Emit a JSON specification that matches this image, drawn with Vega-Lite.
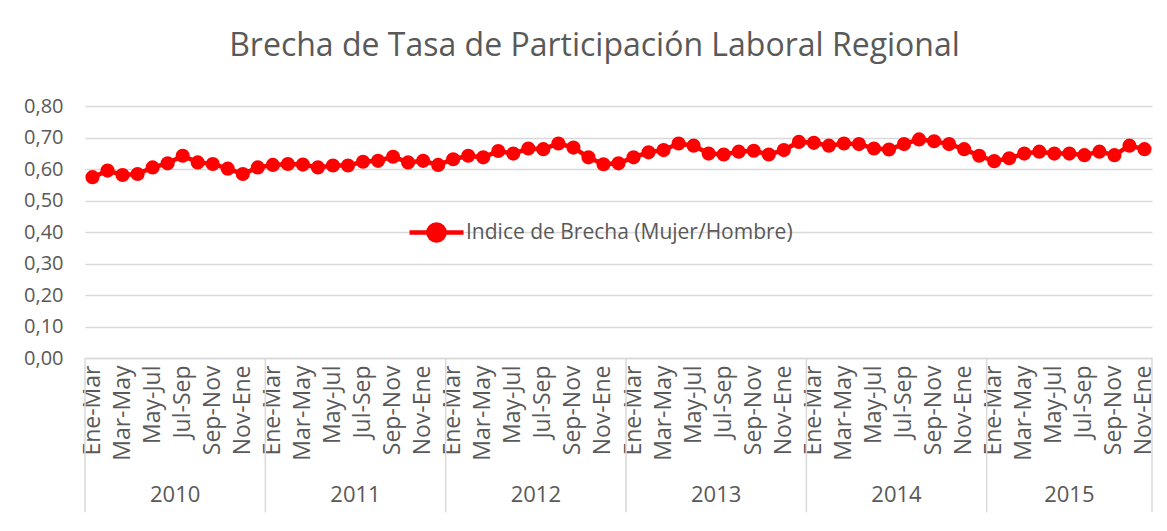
{
  "$schema": "https://vega.github.io/schema/vega-lite/v6.json",
  "width": 1067,
  "height": 252,
  "autosize": {"type": "none"},
  "padding": {"left": 85, "top": 106, "right": 15, "bottom": 173},
  "background": "white",
  "config": {"font": "Open Sans", "view": {"stroke": null}},
  "title": {"text": "Brecha de Tasa de Participación Laboral Regional", "fontSize": 32, "font": "Open Sans", "fontWeight": "normal", "color": "#595959", "anchor": "middle", "offset": 33, "dx": -24},
  "datasets": {
    "serie": [
      {"periodo": "Ene-Mar 2010", "valor": 0.574}, {"periodo": "Feb-Abr 2010", "valor": 0.595}, {"periodo": "Mar-May 2010", "valor": 0.581}, {"periodo": "Abr-Jun 2010", "valor": 0.584}, {"periodo": "May-Jul 2010", "valor": 0.605}, {"periodo": "Jun-Ago 2010", "valor": 0.618}, {"periodo": "Jul-Sep 2010", "valor": 0.642}, {"periodo": "Ago-Oct 2010", "valor": 0.621}, {"periodo": "Sep-Nov 2010", "valor": 0.616}, {"periodo": "Oct-Dic 2010", "valor": 0.601}, {"periodo": "Nov-Ene 2010", "valor": 0.584}, {"periodo": "Dic-Feb 2010", "valor": 0.605},
      {"periodo": "Ene-Mar 2011", "valor": 0.613}, {"periodo": "Feb-Abr 2011", "valor": 0.616}, {"periodo": "Mar-May 2011", "valor": 0.614}, {"periodo": "Abr-Jun 2011", "valor": 0.605}, {"periodo": "May-Jul 2011", "valor": 0.611}, {"periodo": "Jun-Ago 2011", "valor": 0.611}, {"periodo": "Jul-Sep 2011", "valor": 0.623}, {"periodo": "Ago-Oct 2011", "valor": 0.626}, {"periodo": "Sep-Nov 2011", "valor": 0.639}, {"periodo": "Oct-Dic 2011", "valor": 0.621}, {"periodo": "Nov-Ene 2011", "valor": 0.626}, {"periodo": "Dic-Feb 2011", "valor": 0.613},
      {"periodo": "Ene-Mar 2012", "valor": 0.631}, {"periodo": "Feb-Abr 2012", "valor": 0.642}, {"periodo": "Mar-May 2012", "valor": 0.637}, {"periodo": "Abr-Jun 2012", "valor": 0.657}, {"periodo": "May-Jul 2012", "valor": 0.649}, {"periodo": "Jun-Ago 2012", "valor": 0.665}, {"periodo": "Jul-Sep 2012", "valor": 0.663}, {"periodo": "Ago-Oct 2012", "valor": 0.681}, {"periodo": "Sep-Nov 2012", "valor": 0.668}, {"periodo": "Oct-Dic 2012", "valor": 0.637}, {"periodo": "Nov-Ene 2012", "valor": 0.615}, {"periodo": "Dic-Feb 2012", "valor": 0.618},
      {"periodo": "Ene-Mar 2013", "valor": 0.637}, {"periodo": "Feb-Abr 2013", "valor": 0.653}, {"periodo": "Mar-May 2013", "valor": 0.660}, {"periodo": "Abr-Jun 2013", "valor": 0.681}, {"periodo": "May-Jul 2013", "valor": 0.674}, {"periodo": "Jun-Ago 2013", "valor": 0.649}, {"periodo": "Jul-Sep 2013", "valor": 0.646}, {"periodo": "Ago-Oct 2013", "valor": 0.655}, {"periodo": "Sep-Nov 2013", "valor": 0.658}, {"periodo": "Oct-Dic 2013", "valor": 0.646}, {"periodo": "Nov-Ene 2013", "valor": 0.660}, {"periodo": "Dic-Feb 2013", "valor": 0.686},
      {"periodo": "Ene-Mar 2014", "valor": 0.683}, {"periodo": "Feb-Abr 2014", "valor": 0.674}, {"periodo": "Mar-May 2014", "valor": 0.681}, {"periodo": "Abr-Jun 2014", "valor": 0.679}, {"periodo": "May-Jul 2014", "valor": 0.665}, {"periodo": "Jun-Ago 2014", "valor": 0.662}, {"periodo": "Jul-Sep 2014", "valor": 0.679}, {"periodo": "Ago-Oct 2014", "valor": 0.694}, {"periodo": "Sep-Nov 2014", "valor": 0.688}, {"periodo": "Oct-Dic 2014", "valor": 0.679}, {"periodo": "Nov-Ene 2014", "valor": 0.663}, {"periodo": "Dic-Feb 2014", "valor": 0.642},
      {"periodo": "Ene-Mar 2015", "valor": 0.625}, {"periodo": "Feb-Abr 2015", "valor": 0.634}, {"periodo": "Mar-May 2015", "valor": 0.649}, {"periodo": "Abr-Jun 2015", "valor": 0.655}, {"periodo": "May-Jul 2015", "valor": 0.649}, {"periodo": "Jun-Ago 2015", "valor": 0.649}, {"periodo": "Jul-Sep 2015", "valor": 0.644}, {"periodo": "Ago-Oct 2015", "valor": 0.655}, {"periodo": "Sep-Nov 2015", "valor": 0.644}, {"periodo": "Oct-Dic 2015", "valor": 0.674}, {"periodo": "Nov-Ene 2015", "valor": 0.663}
    ],
    "anios": [
      {"anio": "2010", "inicio": "Ene-Mar 2010", "centro": "Jul-Sep 2010"},
      {"anio": "2011", "inicio": "Ene-Mar 2011", "centro": "Jul-Sep 2011"},
      {"anio": "2012", "inicio": "Ene-Mar 2012", "centro": "Jul-Sep 2012"},
      {"anio": "2013", "inicio": "Ene-Mar 2013", "centro": "Jul-Sep 2013"},
      {"anio": "2014", "inicio": "Ene-Mar 2014", "centro": "Jul-Sep 2014"},
      {"anio": "2015", "inicio": "Ene-Mar 2015", "centro": "Jun-Ago 2015"}
    ]
  },
  "layer": [
    {
      "data": {"name": "serie"},
      "mark": {"type": "line", "strokeWidth": 4.5},
      "encoding": {
        "x": {
          "field": "periodo", "type": "ordinal",
          "scale": {"paddingInner": 0, "paddingOuter": 0, "domain": [
            "Ene-Mar 2010","Feb-Abr 2010","Mar-May 2010","Abr-Jun 2010","May-Jul 2010","Jun-Ago 2010","Jul-Sep 2010","Ago-Oct 2010","Sep-Nov 2010","Oct-Dic 2010","Nov-Ene 2010","Dic-Feb 2010",
            "Ene-Mar 2011","Feb-Abr 2011","Mar-May 2011","Abr-Jun 2011","May-Jul 2011","Jun-Ago 2011","Jul-Sep 2011","Ago-Oct 2011","Sep-Nov 2011","Oct-Dic 2011","Nov-Ene 2011","Dic-Feb 2011",
            "Ene-Mar 2012","Feb-Abr 2012","Mar-May 2012","Abr-Jun 2012","May-Jul 2012","Jun-Ago 2012","Jul-Sep 2012","Ago-Oct 2012","Sep-Nov 2012","Oct-Dic 2012","Nov-Ene 2012","Dic-Feb 2012",
            "Ene-Mar 2013","Feb-Abr 2013","Mar-May 2013","Abr-Jun 2013","May-Jul 2013","Jun-Ago 2013","Jul-Sep 2013","Ago-Oct 2013","Sep-Nov 2013","Oct-Dic 2013","Nov-Ene 2013","Dic-Feb 2013",
            "Ene-Mar 2014","Feb-Abr 2014","Mar-May 2014","Abr-Jun 2014","May-Jul 2014","Jun-Ago 2014","Jul-Sep 2014","Ago-Oct 2014","Sep-Nov 2014","Oct-Dic 2014","Nov-Ene 2014","Dic-Feb 2014",
            "Ene-Mar 2015","Feb-Abr 2015","Mar-May 2015","Abr-Jun 2015","May-Jul 2015","Jun-Ago 2015","Jul-Sep 2015","Ago-Oct 2015","Sep-Nov 2015","Oct-Dic 2015","Nov-Ene 2015"
          ]},
          "axis": {
            "title": null, "ticks": false, "grid": false, "labelAngle": -90, "labelAlign": "right", "labelBaseline": "middle",
            "labelPadding": 7, "labelFontSize": 23, "labelColor": "#595959", "labelOverlap": false,
            "domain": true, "domainColor": "#D9D9D9", "domainWidth": 1.5,
            "labelExpr": "indexof(['Ene-Mar','Mar-May','May-Jul','Jul-Sep','Sep-Nov','Nov-Ene'], split(datum.value, ' ')[0]) >= 0 ? split(datum.value, ' ')[0] : ''"
          }
        },
        "y": {
          "field": "valor", "type": "quantitative",
          "scale": {"domain": [0, 0.8], "nice": false, "zero": true},
          "axis": {
            "title": null, "ticks": false, "domain": false, "grid": true, "gridColor": "#D9D9D9", "gridWidth": 1.3,
            "values": [0, 0.1, 0.2, 0.3, 0.4, 0.5, 0.6, 0.7, 0.8], "tickCount": 9, "labelOverlap": false,
            "labelPadding": 22, "labelFontSize": 20, "labelColor": "#595959",
            "labelExpr": "replace(format(datum.value, '.2f'), '.', ',')"
          }
        },
        "color": {
          "datum": "Indice de Brecha (Mujer/Hombre)", "type": "nominal",
          "scale": {"range": ["#FF0000"]},
          "legend": {
            "title": null, "orient": "none", "legendX": 322, "legendY": 97, "padding": 0,
            "labelFontSize": 21, "labelColor": "#595959", "labelOffset": 0, "labelLimit": 0,
            "symbolType": "M-1,0L1,0M-0.3,0A0.3,0.3,0,1,1,0.3,0A0.3,0.3,0,1,1,-0.3,0Z",
            "symbolSize": 2916,
            "symbolFillColor": "#FF0000", "symbolStrokeColor": "#FF0000", "symbolStrokeWidth": 4.5,
            "symbolOpacity": 1,
            "encode": {"symbols": {"update": {"fill": {"value": "#FF0000"}, "stroke": {"value": "#FF0000"}, "strokeWidth": {"value": 4.5}, "opacity": {"value": 1}}}}
          }
        }
      }
    },
    {
      "data": {"name": "anios"},
      "mark": {"type": "rule", "color": "#D9D9D9", "strokeWidth": 1.5},
      "encoding": {
        "x": {"field": "inicio", "type": "ordinal", "bandPosition": 0},
        "y": {"datum": 0, "type": "quantitative"},
        "y2": {"datum": -0.49}
      }
    },
    {
      "data": {"values": [{}]},
      "mark": {"type": "rule", "color": "#D9D9D9", "strokeWidth": 1.5},
      "encoding": {
        "x": {"datum": "Nov-Ene 2015", "type": "ordinal", "bandPosition": 1},
        "y": {"datum": 0, "type": "quantitative"},
        "y2": {"datum": -0.49}
      }
    },
    {
      "data": {"name": "anios"},
      "transform": [{"filter": "datum.anio != '2015'"}],
      "mark": {"type": "text", "fontSize": 22, "color": "#595959", "baseline": "middle", "align": "center"},
      "encoding": {
        "x": {"field": "centro", "type": "ordinal", "bandPosition": 0},
        "y": {"datum": -0.435, "type": "quantitative"},
        "text": {"field": "anio"}
      }
    },
    {
      "data": {"name": "anios"},
      "transform": [{"filter": "datum.anio == '2015'"}],
      "mark": {"type": "text", "fontSize": 22, "color": "#595959", "baseline": "middle", "align": "center"},
      "encoding": {
        "x": {"field": "centro", "type": "ordinal", "bandPosition": 0.5},
        "y": {"datum": -0.435, "type": "quantitative"},
        "text": {"field": "anio"}
      }
    },
    {
      "data": {"name": "serie"},
      "mark": {"type": "point", "filled": true, "size": 200, "opacity": 1, "shape": "circle"},
      "encoding": {
        "x": {"field": "periodo", "type": "ordinal"},
        "y": {"field": "valor", "type": "quantitative"},
        "color": {"datum": "Indice de Brecha (Mujer/Hombre)", "type": "nominal"}
      }
    }
  ]
}
